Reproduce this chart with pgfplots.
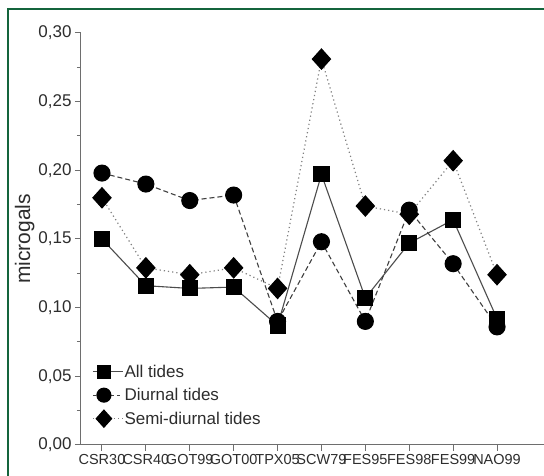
\documentclass[border=0pt]{standalone}
\usepackage{pgfplots}
\pgfplotsset{compat=1.18}
\usepackage{fontspec}
\setmainfont{Liberation Sans}
\definecolor{frame}{RGB}{20,100,60}
\definecolor{axgray}{RGB}{110,110,110}
\definecolor{txt}{RGB}{45,45,45}
\begin{document}
\begin{tikzpicture}
\useasboundingbox (0,0) rectangle (544pt,476pt);
\fill[white] (0,0) rectangle (544pt,476pt);
\draw[frame, line width=1.4pt] (8pt,0pt) -- (8pt,467pt) -- (544pt,467pt);
\begin{axis}[
  at={(81pt,31pt)}, anchor=south west,
  scale only axis, width=463pt, height=412pt,
  xmin=-0.478, xmax=10.07, ymin=0, ymax=0.30,
  axis x line=bottom, axis y line=left,
  axis line style={-, axgray, line width=1pt},
  xtick={0,...,9},
  xticklabels={CSR30,CSR40,GOT99,GOT00,TPX05,SCW79,FES95,FES98,FES99,NAO99},
  x tick label style={font=\fontsize{14.5}{16}\selectfont, text=txt, inner sep=1pt, yshift=-2pt},
  ytick={0,0.05,...,0.30},
  minor ytick={0.025,0.075,...,0.275},
  y tick label style={font=\fontsize{17}{18}\selectfont, text=txt, /pgf/number format/.cd, fixed, fixed zerofill, precision=2, use comma, assume math mode=true},
  tick style={axgray, line width=1pt},
  major tick length=6pt, minor tick length=4pt,
  tick align=outside,
  ylabel={microgals},
  ylabel style={font=\fontsize{21}{23}\selectfont, text=txt, yshift=-3pt},
  clip=false,
  legend style={draw=none, fill=none, at={(0.024,0.207)}, anchor=north west,
    font=\fontsize{17}{19}\selectfont, text=txt, row sep=0pt, inner sep=0pt,
    nodes={inner sep=1pt, minimum height=23.5pt},
    /tikz/every even column/.append style={column sep=3pt}},
  legend cell align=left,
  legend image code/.code={\draw[mark repeat=2,mark phase=2,#1] plot coordinates {(0pt,0pt) (11pt,0pt) (30pt,0pt)};},
]
\addplot[forget plot, color=black!70, line width=1.1pt, mark=square*, mark size=7.5pt, mark options={solid, fill=black, draw=black}]
coordinates {(0,0.150) (1,0.116) (2,0.114) (3,0.115) (4,0.087) (5,0.197) (6,0.107) (7,0.147) (8,0.164) (9,0.092)};
\addplot[forget plot, color=black!75, line width=1.1pt, dash pattern=on 5pt off 3pt, mark=*, mark size=8pt, mark options={solid, fill=black, draw=black}]
coordinates {(0,0.198) (1,0.190) (2,0.178) (3,0.182) (4,0.090) (5,0.148) (6,0.090) (7,0.171) (8,0.132) (9,0.086)};
\addplot[forget plot, color=black!50, line width=1.2pt, dash pattern=on 1.2pt off 3pt, mark=diamond*, mark size=10pt, mark options={solid, fill=black, draw=black, xscale=1.2}]
coordinates {(0,0.180) (1,0.129) (2,0.124) (3,0.129) (4,0.114) (5,0.281) (6,0.174) (7,0.168) (8,0.207) (9,0.124)};
\addlegendimage{color=black!70, line width=1.1pt, mark=square*, mark size=6.5pt, mark options={solid, fill=black, draw=black}}
\addlegendentry{All tides}
\addlegendimage{color=black!75, line width=1.1pt, dash pattern=on 3pt off 3pt, mark=*, mark size=7pt, mark options={solid, fill=black, draw=black}}
\addlegendentry{Diurnal tides}
\addlegendimage{color=black!50, line width=1.2pt, dash pattern=on 1.2pt off 3pt, mark=diamond*, mark size=8.5pt, mark options={solid, fill=black, draw=black, xscale=1.2}}
\addlegendentry{Semi-diurnal tides}
\end{axis}
\end{tikzpicture}
\end{document}
